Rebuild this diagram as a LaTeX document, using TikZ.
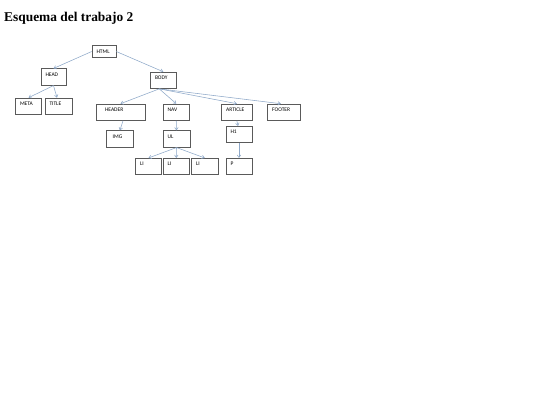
\documentclass[tikz,border=0pt]{standalone}
\usepackage{fontspec}
\setmainfont{Liberation Serif}
\newfontfamily\cajafont{Carlito}
\usetikzlibrary{arrows.meta, calc, shadows}

\definecolor{azul}{HTML}{8EA8C8}
\definecolor{borde}{HTML}{5A5A5A}

\begin{document}
\begin{tikzpicture}[
    x=1pt, y=-1pt,
    % estilo de las cajas de etiquetas
    caja/.style={draw=borde, line width=.6pt, fill=white, font=\cajafont\fontsize{5.5}{6}\selectfont,
        align=left, inner xsep=4.5pt, inner ysep=0pt, text height=7.5pt, text depth=9pt,
        drop shadow={shadow xshift=.5pt, shadow yshift=-.5pt, fill=black!35, opacity=.9}},
    % estilo de las flechas
    flecha/.style={draw=azul, line width=.55pt, -{Straight Barb[length=2.5pt, width=3.5pt]}}
]
    \useasboundingbox (0,0) rectangle (540,405);

    % --- titulo ---
    \node[anchor=base west, inner sep=0pt, font=\bfseries\fontsize{13.4}{16}\selectfont] (titulo) at (4,21.5) {Esquema del trabajo 2};

    % --- nivel 1 ---
    \node[caja, text width=15pt, text depth=4pt] (html) at (104,51.5) {HTML};

    % --- nivel 2 ---
    \node[caja, text width=16pt] (head) at (53.5,77) {HEAD};
    \node[caja, text width=16.5pt] (body) at (163.25,80.3) {BODY};

    % --- nivel 3 ---
    \node[caja, text width=17pt] (meta) at (28.5,106.25) {META};
    \node[caja, text width=18pt] (title) at (58.5,106.25) {TITLE};
    \node[caja, text width=31pt, inner xsep=9pt] (header) at (120.5,112.25) {HEADER};
    \node[caja, text width=17.5pt] (nav) at (176.25,112.25) {NAV};
    \node[caja, text width=21.3pt] (article) at (236.85,112.25) {ARTICLE};
    \node[caja, text width=23.3pt] (footer) at (283.85,112.25) {FOOTER};

    % --- nivel 4 ---
    \node[caja, text width=14.3pt, inner xsep=6pt] (img) at (119.85,139) {IMG};
    \node[caja, text width=18pt] (ul) at (176.5,139) {UL};
    \node[caja, text width=17pt] (h1) at (239,134.5) {H1};

    % --- nivel 5 ---
    \node[caja, text width=17pt] (li1) at (148.5,166.5) {LI};
    \node[caja, text width=17.5pt] (li2) at (176.25,166.5) {LI};
    \node[caja, text width=17.5pt] (li3) at (204.75,166.5) {LI};
    \node[caja, text width=17pt] (p) at (239,166.5) {P};

    % --- flechas ---
    \draw[flecha] (html.west) -- (head.north);
    \draw[flecha] (html.east) -- (body.north);
    \draw[flecha] (head.south) -- (meta.north);
    \draw[flecha] (head.south) -- ([xshift=-1.5pt]title.north);
    \coordinate (body-sal) at ($(body.south)+(-4,0)$);
    \draw[flecha] (body-sal) -- (header.north);
    \draw[flecha] (body-sal) -- (nav.north);
    \draw[flecha] (body-sal) -- (article.north);
    \draw[flecha] (body-sal) -- ([xshift=-3pt]footer.north);
    \draw[flecha] ([xshift=2.5pt]header.south) -- (img.north);
    \draw[flecha] (nav.south) -- (ul.north);
    \draw[flecha] (article.south) -- ([xshift=-1pt]h1.north);
    \draw[flecha] (ul.south) -- (li1.north);
    \draw[flecha] (ul.south) -- (li2.north);
    \draw[flecha] (ul.south) -- (li3.north);
    \draw[flecha] (h1.south) -- (p.north);

\end{tikzpicture}
\end{document}
